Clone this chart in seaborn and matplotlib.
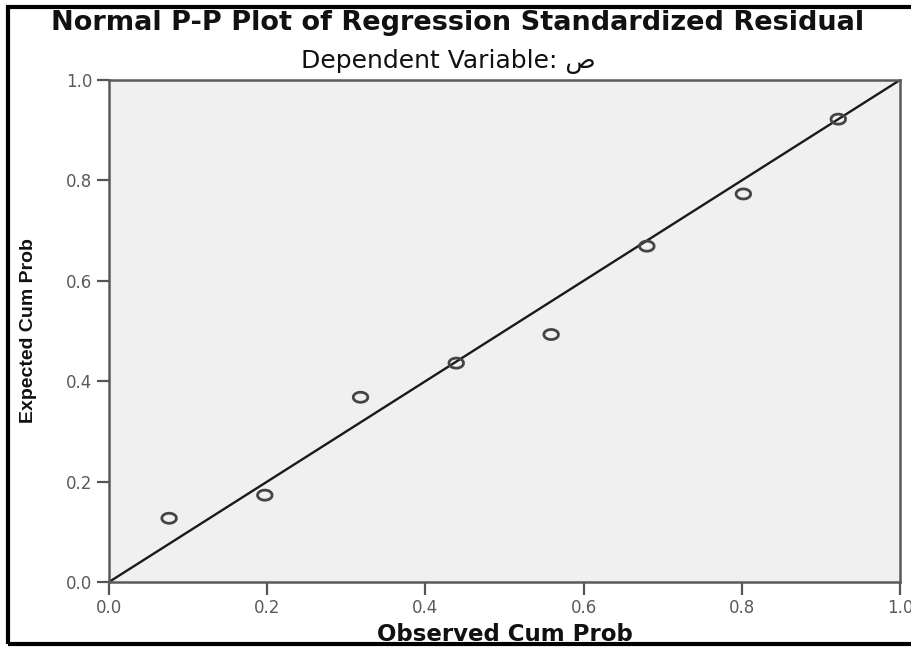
import matplotlib
matplotlib.use("Agg")
import matplotlib.pyplot as plt
import seaborn as sns
import pandas as pd
import numpy as np
from matplotlib.patches import Rectangle

observed = [0.076, 0.197, 0.318, 0.439, 0.559, 0.680, 0.802, 0.922]
expected = [0.127, 0.173, 0.368, 0.436, 0.493, 0.669, 0.773, 0.922]
ref_line = [0.0, 1.0]
ticks = [0.0, 0.2, 0.4, 0.6, 0.8, 1.0]
tick_labels = ["0.0", "0.2", "0.4", "0.6", "0.8", "1.0"]

sns.set_theme(style="white")
plt.rcParams['font.family'] = ['DejaVu Sans']

fig = plt.figure(figsize=(9.12, 6.48), dpi=100)
ax = fig.add_axes([109/912, 1-582/648, (900-109)/912, (582-80)/648])
ax.set_facecolor("#f0f0f0")

# horizontally stretched circle marker (as in the reference)
t = np.linspace(0, 2*np.pi, 60)
ellipse = list(zip(1.45*np.cos(t), np.sin(t)))

df = pd.DataFrame({"obs": observed, "exp": expected})
sns.lineplot(x=ref_line, y=ref_line, ax=ax, color="#1a1a1a", linewidth=1.7)
sns.scatterplot(data=df, x="obs", y="exp", ax=ax, s=110, marker=ellipse,
                facecolors="none", edgecolor="#444444", linewidth=2.0, zorder=3)

ax.set_xlim(0, 1)
ax.set_ylim(0, 1)
ax.set_xticks(ticks)
ax.set_xticklabels(tick_labels)
ax.set_yticks(ticks)
ax.set_yticklabels(tick_labels)
ax.tick_params(axis="both", direction="out", length=9, width=1.6, color="#555555",
               labelcolor="#5a5a5a", labelsize=12, bottom=True, left=True, pad=3)
for s in ax.spines.values():
    s.set_color("#5a5a5a")
    s.set_linewidth(1.8)

ax.set_xlabel("Observed Cum Prob", fontsize=16.5, fontweight="bold", color="#111111")
ax.xaxis.set_label_coords(0.5, (582-623)/502)
ax.set_ylabel("Expected Cum Prob", fontsize=14, fontweight="bold", color="#111111",
              family=['Liberation Sans', 'DejaVu Sans'])
ax.yaxis.set_label_coords((37-109)/791, 0.5)

fig.text(458/912, 1-23/648, "Normal P-P Plot of Regression Standardized Residual",
         ha="center", va="center", fontsize=19.5, fontweight="bold", color="#111111")
fig.text(448/912, 1-62/648, "Dependent Variable: ص", ha="center", va="center",
         fontsize=18, color="#111111")

fig.patches.append(Rectangle((8/912, 4/648), 1.2, 1-11/648, transform=fig.transFigure,
                             fill=False, edgecolor="black", linewidth=3, zorder=10))

fig.savefig("out.png", dpi=100)
